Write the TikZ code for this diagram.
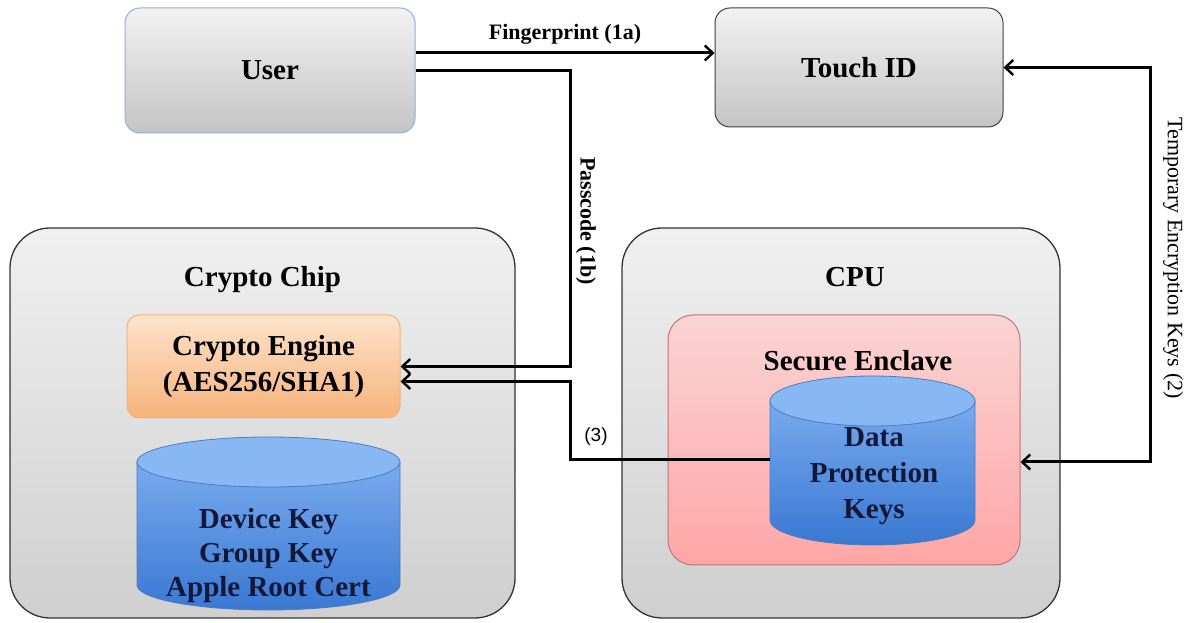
\documentclass[tikz,border=0pt]{standalone}
\usepackage{fontspec}
\setmainfont{Liberation Serif}
\setsansfont{Liberation Sans}
\usetikzlibrary{arrows.meta}
\definecolor{grayTop}{HTML}{F2F2F2}
\definecolor{grayBot}{HTML}{C4C4C4}
\definecolor{contTop}{HTML}{F0F0F0}
\definecolor{contBot}{HTML}{CFCFCF}
\definecolor{orTop}{HTML}{FDE3CC}
\definecolor{orBot}{HTML}{F6B27A}
\definecolor{orEdge}{HTML}{F2B27E}
\definecolor{pkTop}{HTML}{FAD4D4}
\definecolor{pkBot}{HTML}{FFA6A6}
\definecolor{pkEdge}{HTML}{C07474}
\definecolor{cyTop}{HTML}{78AAEE}
\definecolor{cyBot}{HTML}{3A78D2}
\definecolor{cyFace}{HTML}{88B8F4}
\definecolor{cyEdge}{HTML}{4A7CC0}
\definecolor{userEdge}{HTML}{8EB0DA}
\definecolor{navy}{HTML}{141838}
\tikzset{
  x=1pt, y=1pt,
  >={Straight Barb[length=8pt,width=15pt,line width=2.4pt]},
  titlefont/.style={font=\bfseries\fontsize{29}{36}\selectfont},
  topbox/.style={draw, line width=1pt, rounded corners=15pt, top color=grayTop, bottom color=grayBot, inner sep=0pt, titlefont},
  container/.style={draw=black!80, line width=1.3pt, rounded corners=40pt, top color=contTop, bottom color=contBot, inner sep=0pt},
  enginebox/.style={draw=orEdge, line width=1pt, rounded corners=12pt, top color=orTop, bottom color=orBot, inner sep=0pt, align=center, titlefont},
  enclave/.style={draw=pkEdge, line width=1pt, rounded corners=25pt, top color=pkTop, bottom color=pkBot, inner sep=0pt},
  cylbody/.style={draw=cyEdge, line width=0.8pt, top color=cyTop, bottom color=cyBot},
  cylface/.style={draw=cyEdge, line width=0.8pt, fill=cyFace},
  cyltext/.style={align=center, text=navy, titlefont},
  conn/.style={line width=3pt, ->},
  lbl/.style={font=\bfseries\fontsize{22}{24}\selectfont},
}
\begin{document}
\begin{tikzpicture}
\useasboundingbox (0,0) rectangle (1195,623);

% top boxes
\node[topbox, draw=userEdge, minimum width=290pt, minimum height=125pt] (user) at (270,552.5) {User};
\node[topbox, draw=black!75, minimum width=288pt, minimum height=119pt] (touch) at (859,555.5) {Touch ID};

% containers
\node[container, minimum width=505pt, minimum height=390pt] (chip) at (262.5,200) {};
\node[titlefont] (chiptitle) at (262.5,343) {Crypto Chip};
\node[container, minimum width=438pt, minimum height=390pt] (cpu) at (841,200) {};
\node[titlefont] (cputitle) at (855,346) {CPU};

% crypto engine
\node[enginebox, minimum width=273pt, minimum height=103pt] (engine) at (263.5,256.5) {Crypto Engine\\(AES256/SHA1)};

% device key cylinder
\path[cylbody] (137,161) -- (137,38) arc[start angle=180, end angle=360, x radius=131.5, y radius=25] -- (400,161) -- cycle;
\path[cylface] (268.5,161) ellipse[x radius=131.5, y radius=25];
\node[cyltext] (devkeys) at (268.5,67) {Device Key\\[-2pt]Group Key\\[-2pt]Apple Root Cert};

% secure enclave
\node[enclave, minimum width=352pt, minimum height=250pt] (enclave) at (844,183) {};
\node[titlefont] (enctitle) at (858,262) {Secure Enclave};

% data protection cylinder
\path[cylbody] (770,222) -- (770,103) arc[start angle=180, end angle=360, x radius=102.5, y radius=25] -- (975,222) -- cycle;
\path[cylface] (872.5,222) ellipse[x radius=102.5, y radius=25];
\node[inner sep=0pt, minimum width=205pt, minimum height=120pt] (dpk) at (872.5,163) {};
\node[cyltext] (dpktext) at (874,147) {Data\\Protection\\Keys};

% connectors
\draw[conn] ([yshift=17.5pt]user.east) -- ([yshift=14.5pt]touch.west)
  node[lbl, midway, above=4pt] (fplbl) {Fingerprint (1a)};
\draw[conn] (user.east) -| (570,320) |- (engine.east);
\node[lbl, rotate=-90] (pclbl) at (586,402) {Passcode (1b)};
\draw[conn] (dpk.west) -| (570,220) |- ([yshift=-15pt]engine.east);
\node[font=\sffamily\fontsize{19}{20}\selectfont] (l3) at (596,186) {(3)};
\draw[conn, <->]
  (touch.east) -| (1150,300) |- ([yshift=-22pt]enclave.east);
\node[font=\fontsize{22}{24}\selectfont, rotate=-90] (templbl) at (1173,365) {Temporary Encryption Keys (2)};
\end{tikzpicture}
\end{document}
